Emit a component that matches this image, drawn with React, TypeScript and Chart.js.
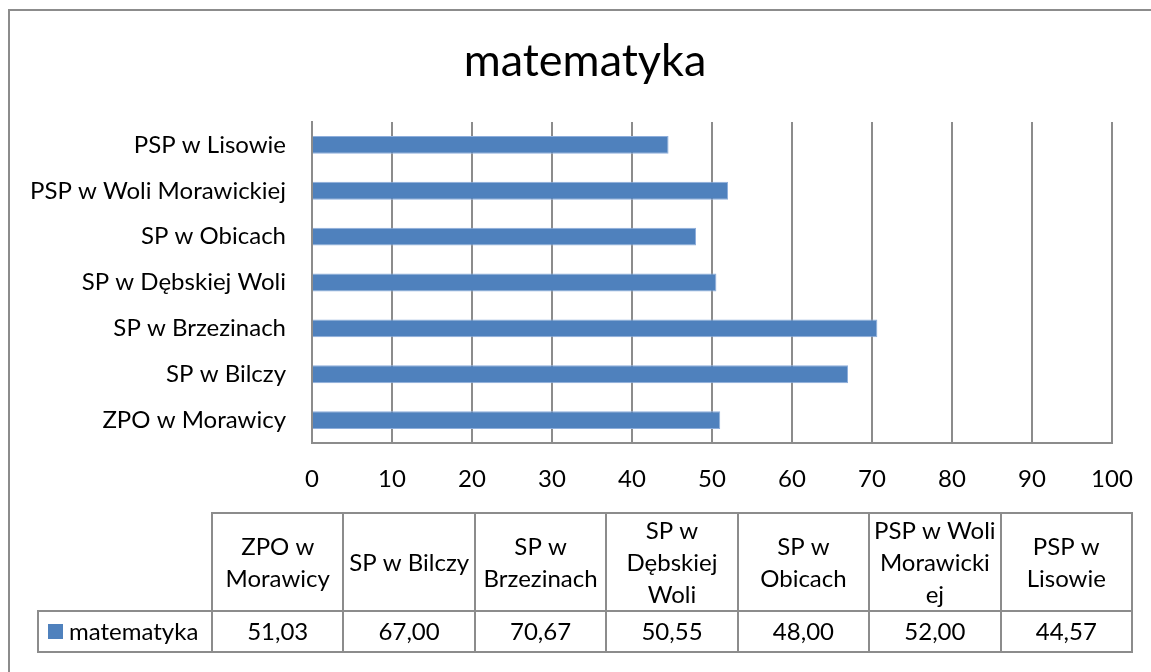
import React, { useEffect, useRef } from "react";
import { Chart, registerables } from "chart.js";

Chart.register(...registerables);

const categories = [
  "ZPO w Morawicy",
  "SP w Bilczy",
  "SP w Brzezinach",
  "SP w Dębskiej Woli",
  "SP w Obicach",
  "PSP w Woli Morawickiej",
  "PSP w Lisowie",
];
const seriesName = "matematyka";
const values = [51.03, 67.0, 70.67, 50.55, 48.0, 52.0, 44.57];
const tableHeaderLines = [
  ["ZPO w", "Morawicy"],
  ["SP w Bilczy"],
  ["SP w", "Brzezinach"],
  ["SP w", "Dębskiej", "Woli"],
  ["SP w", "Obicach"],
  ["PSP w Woli", "Morawicki", "ej"],
  ["PSP w", "Lisowie"],
];
const xMin = 0;
const xMax = 100;
const xStep = 10;

const FONT = "Lato, 'Open Sans', sans-serif";
const BAR_COLOR = "#4F81BD";
const LINE_COLOR = "#8c8c8c";

const framePlugin = {
  id: "frame",
  afterLayout(chart: any) {
    // centre the title over the whole framed area
    if (chart.titleBlock) {
      chart.titleBlock.left = 19;
      chart.titleBlock.right = chart.width;
    }
  },
  beforeDraw(chart: any) {
    const ctx = chart.ctx;
    ctx.save();
    ctx.fillStyle = "#ffffff";
    ctx.fillRect(0, 0, chart.width, chart.height);
    ctx.strokeStyle = LINE_COLOR;
    ctx.lineWidth = 2;
    ctx.beginPath();
    ctx.moveTo(9, chart.height);
    ctx.lineTo(9, 10);
    ctx.lineTo(chart.width, 10);
    ctx.stroke();
    ctx.restore();
  },
};

const tablePlugin = {
  id: "dataTable",
  afterDraw(chart: any) {
    const ctx = chart.ctx;
    const left = 38;
    const colStart = 212;
    const right = 1132;
    const top = 513;
    const mid = 611;
    const bottom = 652;
    const n = categories.length;
    const colW = (right - colStart) / n;
    ctx.save();
    ctx.strokeStyle = LINE_COLOR;
    ctx.lineWidth = 2;
    ctx.beginPath();
    ctx.moveTo(colStart, mid);
    ctx.lineTo(colStart, top);
    ctx.lineTo(right, top);
    ctx.lineTo(right, bottom);
    ctx.lineTo(left, bottom);
    ctx.lineTo(left, mid);
    ctx.lineTo(right, mid);
    ctx.moveTo(colStart, mid);
    ctx.lineTo(colStart, bottom);
    for (let i = 1; i < n; i++) {
      const x = Math.round(colStart + i * colW);
      ctx.moveTo(x, top);
      ctx.lineTo(x, bottom);
    }
    ctx.stroke();

    ctx.fillStyle = "#000000";
    ctx.font = `24px ${FONT}`;
    ctx.textAlign = "center";
    ctx.textBaseline = "middle";
    const lh = 32;
    const hy = (top + mid) / 2 + 1;
    const vy = (mid + bottom) / 2 + 1;
    for (let i = 0; i < n; i++) {
      const cx = colStart + (i + 0.5) * colW;
      const lines = tableHeaderLines[i];
      const y0 = hy - ((lines.length - 1) * lh) / 2;
      lines.forEach((t, j) => ctx.fillText(t, cx, y0 + j * lh));
      ctx.fillText(values[i].toFixed(2).replace(".", ","), cx, vy);
    }
    ctx.fillStyle = BAR_COLOR;
    ctx.fillRect(48, 624, 15, 15);
    ctx.fillStyle = "#000000";
    ctx.textAlign = "left";
    ctx.fillText(seriesName, 69, vy);
    ctx.restore();
  },
};

export default function App() {
  const canvasRef = useRef<HTMLCanvasElement | null>(null);

  useEffect(() => {
    if (!canvasRef.current) return;
    const chart = new Chart(canvasRef.current, {
      type: "bar",
      data: {
        labels: categories,
        datasets: [
          {
            label: seriesName,
            data: values,
            backgroundColor: BAR_COLOR,
            borderColor: "#8eaedb",
            borderWidth: 1,
            barPercentage: 0.39,
            categoryPercentage: 1,
          },
        ],
      },
      options: {
        indexAxis: "y",
        animation: false,
        responsive: false,
        layout: { padding: { left: 0, right: 39, top: 0, bottom: 0 } },
        plugins: {
          legend: { display: false },
          tooltip: { enabled: false },
          title: {
            display: true,
            text: seriesName,
            color: "#000000",
            font: { family: FONT, size: 45, weight: "normal" },
            padding: { top: 34, bottom: 34 },
          },
        },
        scales: {
          x: {
            type: "linear",
            min: xMin,
            max: xMax,
            ticks: {
              stepSize: xStep,
              color: "#000000",
              font: { family: FONT, size: 24 },
              padding: 22,
            },
            grid: { color: LINE_COLOR, lineWidth: 2, drawTicks: false },
            border: { color: LINE_COLOR, width: 2 },
            afterFit: (s: any) => {
              s.height = 229;
              s.paddingLeft = 0;
              s.paddingRight = 0;
            },
          },
          y: {
            type: "category",
            reverse: true,
            ticks: {
              color: "#000000",
              font: { family: FONT, size: 24 },
              padding: 26,
            },
            grid: { display: false, drawTicks: false },
            border: { color: LINE_COLOR, width: 2 },
            afterFit: (s: any) => {
              s.width = 312;
              s.paddingTop = 0;
              s.paddingBottom = 0;
            },
          },
        },
      },
      plugins: [framePlugin, tablePlugin],
    } as any);
    return () => chart.destroy();
  }, []);

  return (
    <div style={{ position: "absolute", left: 0, top: 0, width: 1151, height: 672 }}>
      <canvas ref={canvasRef} width={1151} height={672} />
    </div>
  );
}
